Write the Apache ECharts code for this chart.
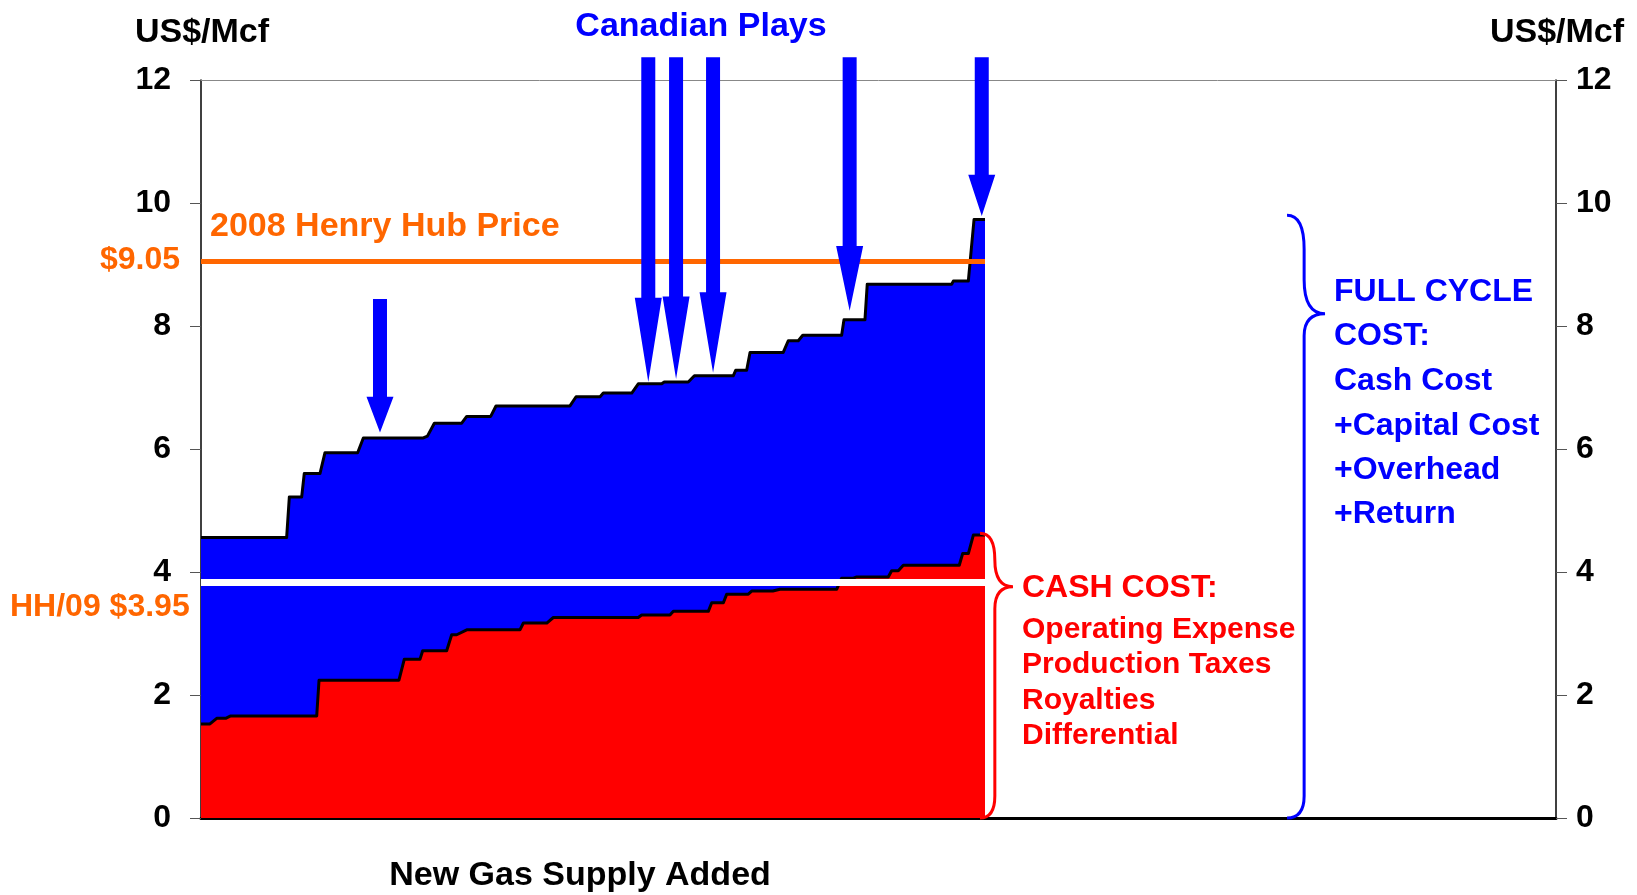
<!DOCTYPE html>
<html>
<head>
<meta charset="utf-8">
<title>Gas supply cost curve</title>
<script src="https://cdn.jsdelivr.net/npm/echarts@6/dist/echarts.min.js"></script>
<style>
  html, body { margin: 0; padding: 0; background: #fff; }
  #chart { width: 1637px; height: 895px; }
</style>
</head>
<body>
<div id="chart"></div>
<script>
// supply added (arbitrary units, axis 0..100) and full cycle cost, US$/Mcf
const supplyFull = [0, 6.32, 6.52, 7.43, 7.62, 8.78, 9.15, 11.56, 11.98, 16.41, 16.71, 17.22, 19.24, 19.61, 21.38, 21.77, 27.23, 27.68, 29.45, 29.69, 31.79, 32.27, 34.0, 34.19, 35.96, 36.41, 39.28, 39.46, 40.27, 40.52, 42.97, 43.34, 44.08, 44.41, 47.28, 47.45, 49.0, 49.17, 55.4, 55.52, 56.63, 57.05, 57.86];
const fullCost = [4.56, 4.56, 5.22, 5.22, 5.60, 5.60, 5.94, 5.94, 6.18, 6.18, 6.21, 6.42, 6.42, 6.53, 6.53, 6.70, 6.70, 6.85, 6.85, 6.91, 6.91, 7.06, 7.06, 7.09, 7.09, 7.19, 7.19, 7.28, 7.28, 7.57, 7.57, 7.76, 7.76, 7.85, 7.85, 8.10, 8.10, 8.68, 8.68, 8.73, 8.73, 9.73, 9.73];

// cash cost curve
const supplyCash = [0, 0.66, 1.16, 1.82, 2.19, 8.54, 8.71, 14.61, 15.0, 16.16, 16.36, 18.13, 18.5, 18.87, 19.61, 23.54, 23.79, 25.52, 26.0, 32.27, 32.52, 34.61, 34.86, 37.44, 37.69, 38.55, 38.8, 40.39, 40.64, 42.2, 42.73, 46.92, 47.28, 48.15, 48.39, 50.72, 50.97, 51.46, 51.83, 55.96, 56.21, 56.63, 57.0, 57.86];
const cashCost = [1.53, 1.53, 1.62, 1.62, 1.66, 1.66, 2.24, 2.24, 2.58, 2.58, 2.72, 2.72, 2.98, 2.98, 3.06, 3.06, 3.17, 3.17, 3.26, 3.26, 3.30, 3.30, 3.36, 3.36, 3.50, 3.50, 3.64, 3.64, 3.69, 3.69, 3.72, 3.72, 3.90, 3.90, 3.92, 3.92, 4.02, 4.02, 4.11, 4.11, 4.30, 4.30, 4.60, 4.60];

// price references
const henryHub2008 = 9.05;
const henryHub09 = 3.83;
const supplyEnd = 57.86;

// arrows: position, shaft top, head start, tip
const arrowX = [13.21, 33.01, 35.06, 37.79, 47.87, 57.62];
const arrowTop = [8.44, 12.37, 12.37, 12.37, 12.37, 12.37];
const arrowNeck = [6.85, 8.46, 8.48, 8.55, 9.30, 10.46];
const arrowTip = [6.27, 7.09, 7.14, 7.24, 8.25, 9.79];

// braces: x, bottom, top, point
const braceX = [57.49, 80.15];
const braceBottom = [0, 0];
const braceTop = [4.63, 9.8];
const bracePoint = [3.76, 8.2];
const braceColor = ['#FF0000', '#0000FF'];
const braceDepth = [33, 38];

const tickLabels = ['0', '2', '4', '6', '8', '10', '12'];

const BLUE = '#0000FF';
const RED = '#FF0000';
const ORANGE = '#FF6600';
const FONT = '"Liberation Sans", Arial, sans-serif';

const chart = echarts.init(document.getElementById('chart'));

const fullData = supplyFull.map((x, i) => [x, fullCost[i]]);
const cashData = supplyCash.map((x, i) => [x, cashCost[i]]);
const arrowData = arrowX.map((x, i) => [x, arrowTop[i], arrowNeck[i], arrowTip[i]]);
const braceData = braceX.map((x, i) => [x, braceBottom[i], braceTop[i], bracePoint[i], i]);

function renderArrow(params, api) {
  const top = api.coord([api.value(0), api.value(1)]);
  const neck = api.coord([api.value(0), api.value(2)]);
  const tip = api.coord([api.value(0), api.value(3)]);
  const x = top[0];
  const s = 7;
  const h = 13.5;
  return {
    type: 'polygon',
    shape: {
      points: [
        [x - s, top[1]], [x + s, top[1]], [x + s, neck[1]], [x + h, neck[1]],
        [x, tip[1]], [x - h, neck[1]], [x - s, neck[1]]
      ]
    },
    style: { fill: BLUE }
  };
}

function renderBrace(params, api) {
  const i = api.value(4);
  const bot = api.coord([api.value(0), api.value(1)]);
  const top = api.coord([api.value(0), api.value(2)]);
  const pt = api.coord([api.value(0), api.value(3)]);
  const x0 = bot[0];
  const d = braceDepth[i];
  const m = x0 + d * 0.45;
  const r1 = Math.min(34, (pt[1] - top[1]) / 2);
  const r2 = 22;
  const p = [
    'M', x0, top[1],
    'Q', m, top[1], m, top[1] + r1,
    'L', m, pt[1] - r1,
    'Q', m, pt[1], x0 + d, pt[1],
    'Q', m, pt[1], m, pt[1] + r2,
    'L', m, bot[1] - r2,
    'Q', m, bot[1], x0, bot[1]
  ].join(' ');
  return {
    type: 'path',
    shape: { pathData: p },
    style: { fill: null, stroke: braceColor[i], lineWidth: 3 }
  };
}

const axisY = (pos, margin, align) => ({
  type: 'value',
  position: pos,
  min: 0,
  max: 12,
  interval: 2,
  axisLine: { show: true, onZero: false, lineStyle: { color: '#000', width: 1.5 } },
  axisTick: { show: true, inside: false, length: 11, lineStyle: { color: '#555', width: 1 } },
  splitLine: { show: false },
  axisLabel: {
    margin: margin,
    align: align,
    color: '#000',
    fontFamily: FONT,
    fontWeight: 'bold',
    fontSize: 32,
    formatter: (v) => tickLabels[v / 2]
  }
});

const text = (t, x, y, color, size, align) => ({
  type: 'text',
  x: x,
  y: y,
  style: {
    text: t,
    fill: color,
    font: 'bold ' + size + 'px ' + FONT,
    textAlign: align || 'left',
    textVerticalAlign: 'middle'
  }
});

const option = {
  animation: false,
  backgroundColor: '#fff',
  grid: { left: 201, right: 81, top: 80, bottom: 77 },
  xAxis: [
    {
      type: 'value', min: 0, max: 100, position: 'bottom',
      axisLine: { show: true, onZero: false, lineStyle: { color: '#000', width: 3 } },
      axisTick: { show: false }, axisLabel: { show: false }, splitLine: { show: false }
    },
    {
      type: 'value', min: 0, max: 100, position: 'top',
      axisLine: { show: true, onZero: false, lineStyle: { color: '#888', width: 1 } },
      axisTick: { show: false }, axisLabel: { show: false }, splitLine: { show: false }
    }
  ],
  yAxis: [axisY('left', 30, 'right'), axisY('right', 20, 'left')],
  series: [
    {
      name: 'Full cycle cost',
      type: 'line',
      data: fullData,
      showSymbol: false,
      z: 2,
      lineStyle: { color: '#000', width: 3, join: 'round' },
      areaStyle: { color: BLUE, opacity: 1 }
    },
    {
      name: 'Cash cost',
      type: 'line',
      data: cashData,
      showSymbol: false,
      z: 3,
      lineStyle: { color: '#000', width: 3, join: 'round' },
      areaStyle: { color: RED, opacity: 1 },
      markLine: {
        silent: true,
        symbol: 'none',
        label: { show: false },
        data: [
          [{ coord: [0, henryHub2008], lineStyle: { color: ORANGE, width: 5, type: 'solid' } }, { coord: [supplyEnd, henryHub2008] }],
          [{ coord: [0, henryHub09], lineStyle: { color: '#fff', width: 7, type: 'solid' } }, { coord: [supplyEnd, henryHub09] }]
        ]
      }
    },
    {
      name: 'Arrows',
      type: 'custom',
      renderItem: renderArrow,
      data: arrowData,
      clip: false,
      z: 5
    },
    {
      name: 'Braces',
      type: 'custom',
      renderItem: renderBrace,
      data: braceData,
      clip: false,
      z: 5
    }
  ],
  graphic: [
    text('US$/Mcf', 202, 33, '#000', 34, 'center'),
    text('US$/Mcf', 1557, 33, '#000', 34, 'center'),
    text('Canadian Plays', 701, 27, BLUE, 34, 'center'),
    text('2008 Henry Hub Price', 210, 227, ORANGE, 34),
    text('$9.05', 180, 260, ORANGE, 32, 'right'),
    text('HH/09 $3.95', 10, 607, ORANGE, 32),
    text('New Gas Supply Added', 580, 876, '#000', 34, 'center'),
    text('CASH COST:', 1022, 588, RED, 32),
    text('Operating Expense', 1022, 630, RED, 30),
    text('Production Taxes', 1022, 665, RED, 30),
    text('Royalties', 1022, 701, RED, 30),
    text('Differential', 1022, 736, RED, 30),
    text('FULL CYCLE', 1334, 292, BLUE, 32),
    text('COST:', 1334, 336, BLUE, 32),
    text('Cash Cost', 1334, 381, BLUE, 32),
    text('+Capital Cost', 1334, 426, BLUE, 32),
    text('+Overhead', 1334, 470, BLUE, 32),
    text('+Return', 1334, 514, BLUE, 32)
  ]
};

chart.setOption(option);
</script>
</body>
</html>
